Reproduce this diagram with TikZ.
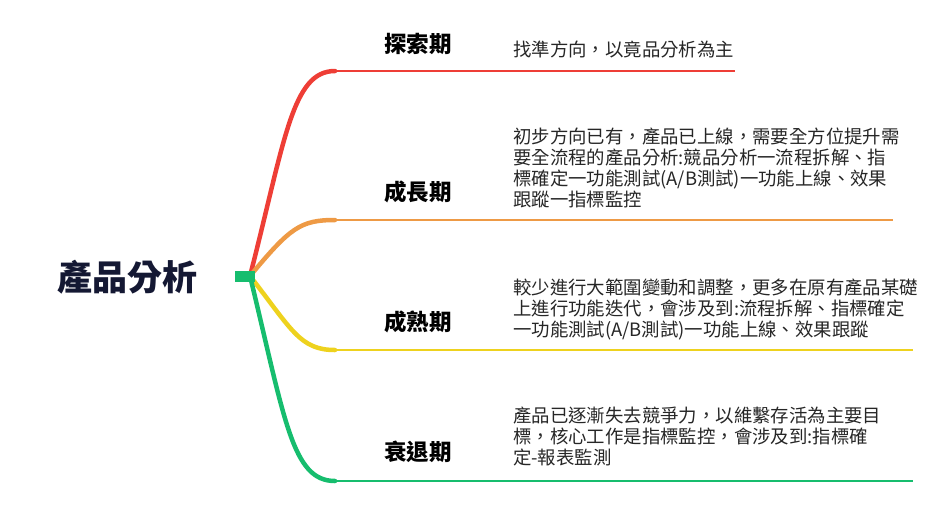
\documentclass[tikz,border=0pt]{standalone}
\usepackage{fontspec}
\setmainfont{Noto Sans CJK TC}
\usetikzlibrary{positioning}
\definecolor{rootblue}{HTML}{141833}
\definecolor{cred}{HTML}{EE3E36}
\definecolor{corange}{HTML}{EE9A45}
\definecolor{cyellow}{HTML}{EED21E}
\definecolor{cgreen}{HTML}{16BD6E}
\tikzset{
  stage/.style={font=\fontsize{22.5}{24}\selectfont\bfseries, anchor=center},
  desc/.style={font=\fontsize{18.4}{21}\selectfont, anchor=north west, align=left, inner sep=0pt, text=black!85},
  limb/.style={line width=4.5pt, line cap=round},
  twig/.style={line width=2.5pt}
}
\begin{document}
\begin{tikzpicture}[x=1pt,y=-1pt]
    \useasboundingbox (0,0) rectangle (939,507);
        % Define nodes
        \node[font=\fontsize{35}{37}\selectfont\bfseries, text=rootblue] (root) at (127,277) {產品分析};
        \coordinate (hub) at (250,276);
        \node[stage] (s1) at (418,44)  {探索期};
        \node[stage] (s2) at (418,192) {成長期};
        \node[stage] (s3) at (418,322) {成熟期};
        \node[stage] (s4) at (418,452) {衰退期};
        \coordinate (a1) at (335,71);  \coordinate (b1) at (735,71);
        \coordinate (a2) at (335,220); \coordinate (b2) at (893,220);
        \coordinate (a3) at (335,350); \coordinate (b3) at (913,350);
        \coordinate (a4) at (335,481); \coordinate (b4) at (913,481);
        \node[desc] (d1) at (513,41)  {找準方向，以竟品分析為主};
        \node[desc] (d2) at (513,128) {初步方向已有，產品已上線，需要全方位提升需\\要全流程的產品分析:競品分析一流程拆解、指\\標確定一功能測試(A/B測試)一功能上線、效果\\跟蹤一指標監控};
        \node[desc] (d3) at (513,279) {較少進行大範圍變動和調整，更多在原有產品某礎\\上進行功能迭代，會涉及到:流程拆解、指標確定\\一功能測試(A/B測試)一功能上線、效果跟蹤};
        \node[desc] (d4) at (513,407) {產品已逐漸失去競爭力，以維繫存活為主要目\\標，核心工作是指標監控，會涉及到:指標確\\定-報表監測};
        % Connect the nodes
        \draw[limb, cred]    (hub) .. controls (285,140) and (292,71) .. (a1);
        \draw[twig, cred]    (a1) -- (b1);
        \draw[limb, corange] (hub) .. controls (290,228) and (300,220) .. (a2);
        \draw[twig, corange] (a2) -- (b2);
        \draw[limb, cyellow] (hub) .. controls (292,330) and (300,350) .. (a3);
        \draw[twig, cyellow] (a3) -- (b3);
        \draw[limb, cgreen]  (hub) .. controls (285,420) and (292,481) .. (a4);
        \draw[twig, cgreen]  (a4) -- (b4);
        \fill[cgreen] (235,271) rectangle (255,282);
      \end{tikzpicture}
\end{document}
